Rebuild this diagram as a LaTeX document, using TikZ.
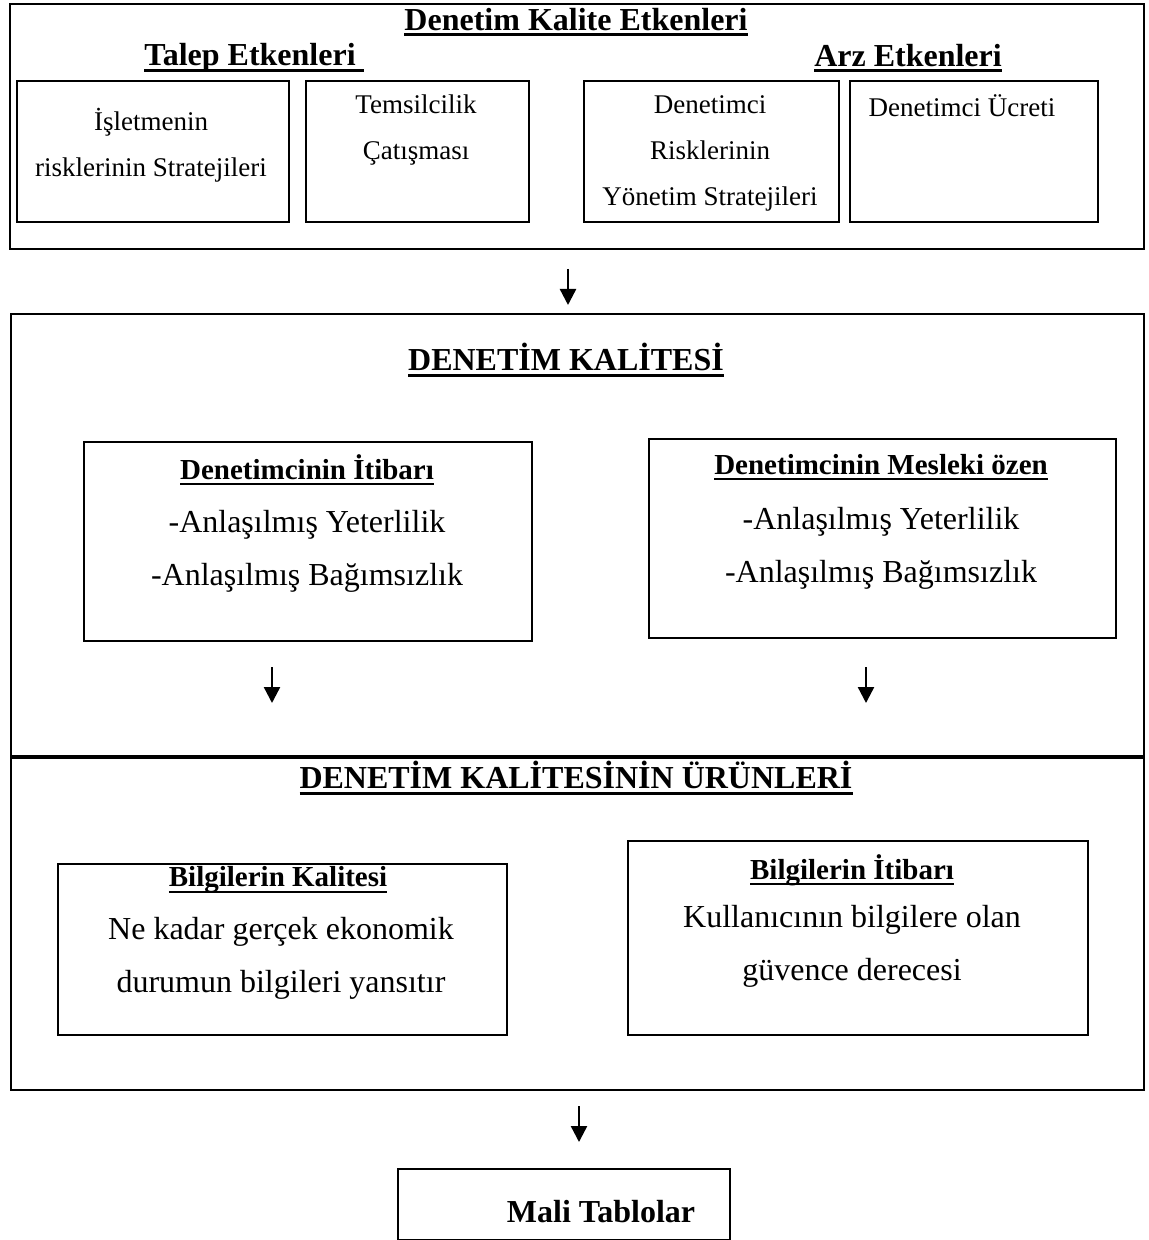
\documentclass[tikz,border=0pt]{standalone}
\usepackage{fontspec}
\setmainfont{Liberation Serif}
\usetikzlibrary{arrows.meta,positioning,calc}
\newcommand{\undl}[2][1.4pt]{\setbox0\hbox{#2}\rlap{\rule[-3pt]{\wd0}{#1}}\box0}

\begin{document}
\begin{tikzpicture}[x=0.5pt,y=-0.5pt,
  frame/.style={draw,line width=1.15pt,anchor=north west,inner sep=0pt},
  cell/.style={draw,line width=0.9pt,anchor=north west,inner sep=0pt},
  head/.style={font=\fontsize{16}{19}\selectfont\bfseries},
  subhead/.style={font=\fontsize{14.5}{17}\selectfont\bfseries},
  small/.style={align=center,font=\fontsize{13.5}{23}\selectfont},
  body/.style={align=center,font=\fontsize{16}{26.5}\selectfont},
  flow/.style={-{Triangle[length=8pt,width=8pt]},line width=1.2pt}]
  \useasboundingbox (0,0) rectangle (1148,1240);
  % factors of audit quality
  \node[frame,minimum width=567pt,minimum height=122.5pt] (etken) at (9,3) {};
  \node[head] (etkenT) at (576,22) {\undl{Denetim Kalite Etkenleri}};
  \node[head] (talep) at (254,58) {\undl{Talep Etkenleri\ }};
  \node[head] (arz) at (908,58) {\undl{Arz Etkenleri}};
  \node[cell,minimum width=136pt,minimum height=70.5pt] (isl) at (16,80) {};
  \node[cell,minimum width=111.5pt,minimum height=70.5pt] (tem) at (305,80) {};
  \node[cell,minimum width=127.5pt,minimum height=70.5pt] (drs) at (583,80) {};
  \node[cell,minimum width=124pt,minimum height=70.5pt] (ucr) at (849,80) {};
  \node[small] (islT) at (151,145) {İşletmenin\\risklerinin Stratejileri};
  \node[small] (temT) at (416,130) {Temsilcilik\\Çatışması};
  \node[small] (drsT) at (710,153) {Denetimci\\Risklerinin\\Yönetim Stratejileri};
  \node[small] (ucrT) at (962,106) {Denetimci Ücreti};
  \coordinate (a1s) at (568,269);
  \coordinate (a1e) at (568,305);
  \draw[flow] (a1s) -- (a1e);
  % audit quality and its products
  \node[frame,minimum width=566.5pt,minimum height=388pt] (kal) at (10,313) {};
  \coordinate (divL) at (10,757);
  \coordinate (divR) at (1143,757);
  \draw[line width=1.8pt] (divL) -- (divR);
  \node[head] (kalT) at (566,360) {\undl{DENETİM KALİTESİ}};
  \node[cell,minimum width=224pt,minimum height=99.5pt] (itb) at (83,441) {};
  \node[cell,minimum width=233.5pt,minimum height=99.5pt] (ozn) at (648,438) {};
  \node[subhead] (itbH) at (307,470) {\undl[1pt]{Denetimcinin İtibarı}};
  \node[body] (itbB) at (307,551) {-Anlaşılmış Yeterlilik\\-Anlaşılmış Bağımsızlık};
  \node[subhead] (oznH) at (881,467) {\undl[1pt]{Denetimcinin Mesleki özen}};
  \node[body] (oznB) at (881,548) {-Anlaşılmış Yeterlilik\\-Anlaşılmış Bağımsızlık};
  \coordinate (a2s) at (272,667);
  \coordinate (a2e) at (272,703);
  \coordinate (a3s) at (866,667);
  \coordinate (a3e) at (866,703);
  \draw[flow] (a2s) -- (a2e);
  \draw[flow] (a3s) -- (a3e);
  \node[head] (urnT) at (576,778) {\undl{DENETİM KALİTESİNİN ÜRÜNLERİ}};
  \node[cell,minimum width=224.5pt,minimum height=85.5pt] (bkl) at (57,863) {};
  \node[cell,minimum width=230pt,minimum height=97pt] (bit) at (627,840) {};
  \node[subhead] (bklH) at (278,880) {\undl[1pt]{Bilgilerin Kalitesi}};
  \node[body] (bklB) at (281,958) {Ne kadar gerçek ekonomik\\durumun bilgileri yansıtır};
  \node[subhead] (bitH) at (852,870) {\undl[1pt]{Bilgilerin İtibarı}};
  \node[body] (bitB) at (852,946) {Kullanıcının bilgilere olan\\güvence derecesi};
  \coordinate (a4s) at (579,1106);
  \coordinate (a4e) at (579,1142);
  \draw[flow] (a4s) -- (a4e);
  % financial statements
  \node[cell,minimum width=166pt,minimum height=35.5pt] (mali) at (397,1168) {};
  \node[head] (maliT) at (601,1212) {Mali Tablolar};
\end{tikzpicture}
\end{document}
